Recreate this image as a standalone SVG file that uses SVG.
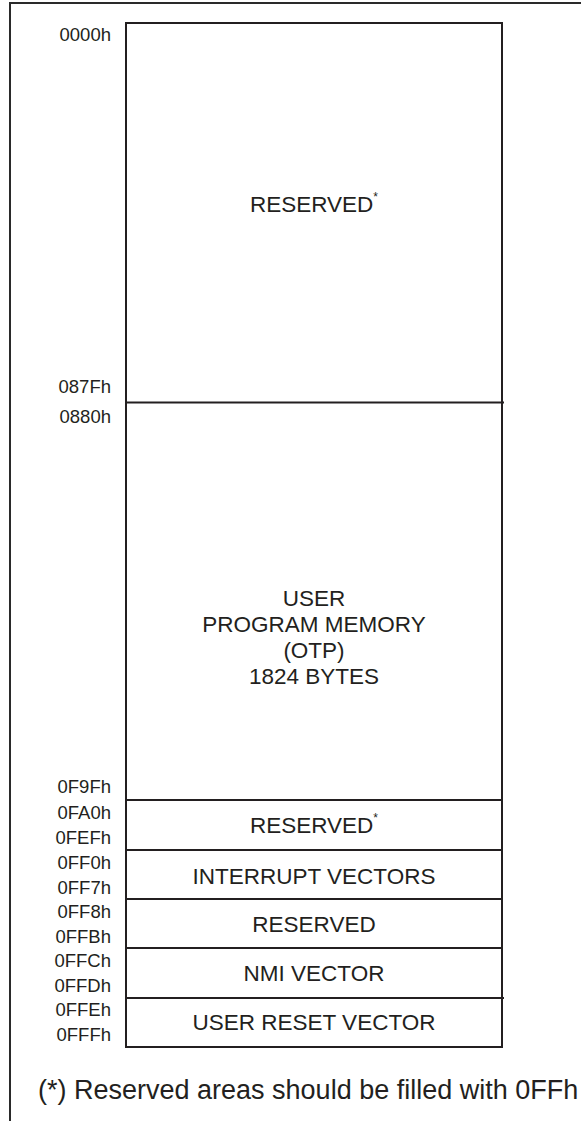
<svg xmlns="http://www.w3.org/2000/svg" width="581" height="1121" viewBox="0 0 581 1121">
<style>
.ln{stroke:#231f20;stroke-width:2;fill:none}
.fr{stroke:#2a2a2a;stroke-width:2;fill:none}
.lab{font-family:"Liberation Sans",Arial,sans-serif;font-size:18.5px;fill:#231f20;text-anchor:end}
.t{font-family:"Liberation Sans",Arial,sans-serif;font-size:22.5px;fill:#231f20;text-anchor:middle}
.sup{font-size:12px}
.fn{font-family:"Liberation Sans",Arial,sans-serif;font-size:27px;fill:#231f20}
</style>
<rect width="581" height="1121" fill="#fff"/>
<path class="fr" d="M10,1121 V3 H581"/>
<g id="memory-map">
<rect class="ln" x="126" y="23" width="376" height="1024"/>
</g>
<g id="connectors">
<line class="ln" x1="126" y1="402.5" x2="504" y2="402.5"/>
<line class="ln" x1="126" y1="800" x2="502" y2="800"/>
<line class="ln" x1="126" y1="850" x2="502" y2="850"/>
<line class="ln" x1="126" y1="899" x2="502" y2="899"/>
<line class="ln" x1="126" y1="948" x2="502" y2="948"/>
<line class="ln" x1="126" y1="998" x2="504" y2="998"/>
</g>
<g id="addresses">
<text class="lab" x="111" y="41">0000h</text>
<text class="lab" x="111" y="393">087Fh</text>
<text class="lab" x="111" y="423">0880h</text>
<text class="lab" x="111" y="793">0F9Fh</text>
<text class="lab" x="111" y="819">0FA0h</text>
<text class="lab" x="111" y="844">0FEFh</text>
<text class="lab" x="111" y="869">0FF0h</text>
<text class="lab" x="111" y="894">0FF7h</text>
<text class="lab" x="111" y="918">0FF8h</text>
<text class="lab" x="111" y="943">0FFBh</text>
<text class="lab" x="111" y="967">0FFCh</text>
<text class="lab" x="111" y="992">0FFDh</text>
<text class="lab" x="111" y="1016">0FFEh</text>
<text class="lab" x="111" y="1041">0FFFh</text>
</g>
<g id="reserved-top"><text class="t" x="314" y="212">RESERVED<tspan class="sup" dy="-11">*</tspan></text></g>
<g id="user-program-memory">
<text class="t" x="314" y="606">USER</text>
<text class="t" x="314" y="632">PROGRAM MEMORY</text>
<text class="t" x="314" y="658">(OTP)</text>
<text class="t" x="314" y="684">1824 BYTES</text>
</g>
<g id="reserved-2"><text class="t" x="314" y="833">RESERVED<tspan class="sup" dy="-11">*</tspan></text></g>
<g id="interrupt-vectors"><text class="t" x="314" y="884">INTERRUPT VECTORS</text></g>
<g id="reserved-3"><text class="t" x="314" y="932">RESERVED</text></g>
<g id="nmi-vector"><text class="t" x="314" y="981">NMI VECTOR</text></g>
<g id="user-reset-vector"><text class="t" x="314" y="1030">USER RESET VECTOR</text></g>
<text class="fn" x="38" y="1099">(*) Reserved areas should be filled with 0FFh</text>
</svg>
